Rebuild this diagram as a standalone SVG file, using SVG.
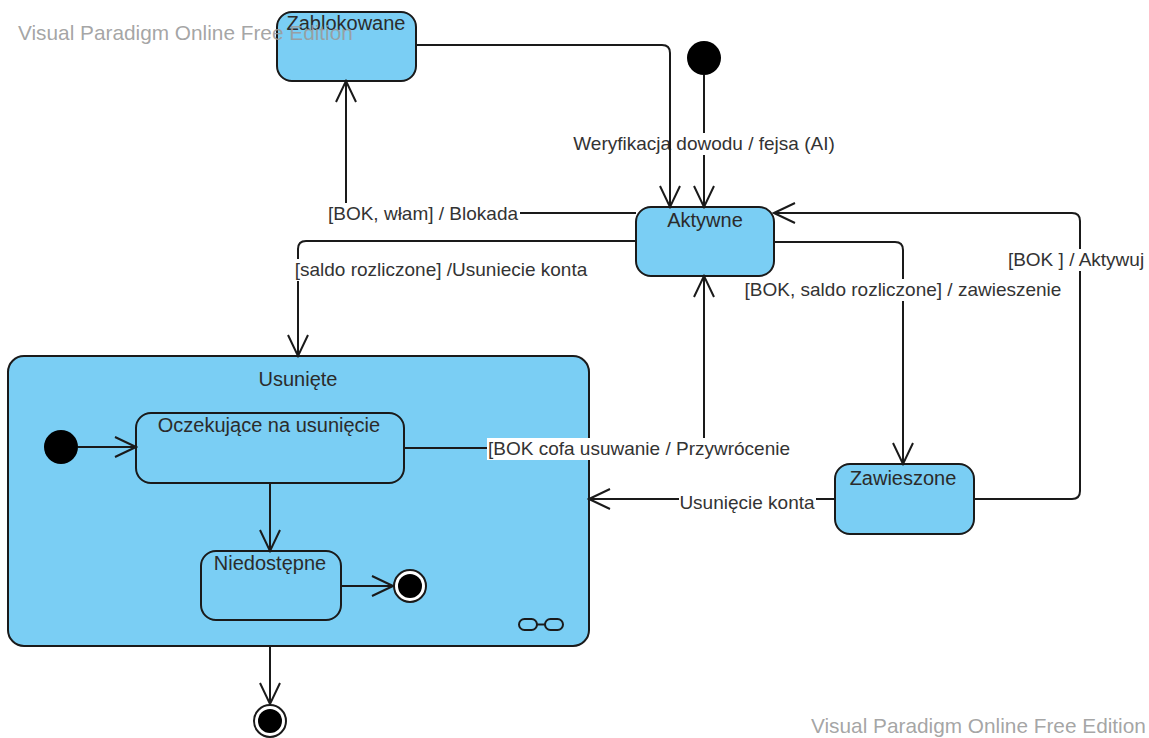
<svg xmlns="http://www.w3.org/2000/svg" width="1149" height="738" viewBox="0 0 1149 738">
  <style>
    .state { fill: #7acef4; stroke: #1a1a1a; stroke-width: 2; }
    .name { font-family: "Liberation Sans", Arial, sans-serif; font-size: 20px; fill: #2b2b2b; text-anchor: middle; }
    .lbl { font-family: "Liberation Sans", Arial, sans-serif; font-size: 19px; fill: #333333; text-anchor: middle; }
    .lblbg { fill: #ffffff; }
    .edge { fill: none; stroke: #1a1a1a; stroke-width: 2; marker-end: url(#open); }
    .plain { fill: none; stroke: #1a1a1a; stroke-width: 2; }
    .wm { font-family: "Liberation Sans", Arial, sans-serif; font-size: 20.8px; fill: #9a9a9a; fill-opacity: 0.9; }
  </style>
  <defs>
    <marker id="open" viewBox="-23 -12 25 24" markerWidth="25" markerHeight="24" refX="0" refY="0" orient="auto" markerUnits="userSpaceOnUse">
      <path d="M-21,-10 L0,0 L-21,10" fill="none" stroke="#1a1a1a" stroke-width="2"/>
    </marker>
  </defs>
  <rect width="1149" height="738" fill="#ffffff"/>

  <!-- composite state -->
  <g id="usuniete">
    <rect class="state" x="8" y="356" width="581" height="290" rx="16"/>
    <text class="name" x="298" y="386">Usunięte</text>
    <g class="plain" stroke-width="1.5">
      <rect x="519" y="619" width="18" height="11" rx="5.5"/>
      <rect x="545" y="619" width="18" height="11" rx="5.5"/>
      <line x1="537" y1="624.5" x2="545" y2="624.5"/>
    </g>
  </g>

  <g id="zablokowane">
    <rect class="state" x="277" y="12" width="139" height="69" rx="15"/>
    <text class="name" x="346" y="30">Zablokowane</text>
  </g>

  <g id="aktywne">
    <rect class="state" x="636" y="207" width="138" height="69" rx="15"/>
    <text class="name" x="705" y="227">Aktywne</text>
  </g>

  <g id="zawieszone">
    <rect class="state" x="835" y="464" width="139" height="70" rx="15"/>
    <text class="name" x="903" y="485">Zawieszone</text>
  </g>

  <g id="oczekujace">
    <rect class="state" x="136" y="413" width="268" height="70" rx="15"/>
    <text class="name" x="269" y="432">Oczekujące na usunięcie</text>
  </g>

  <g id="niedostepne">
    <rect class="state" x="201" y="551" width="140" height="69" rx="15"/>
    <text class="name" x="270" y="570">Niedostępne</text>
  </g>

  <g id="start-top">
    <circle cx="704" cy="58" r="17" fill="#000000"/>
  </g>

  <g id="start-inner">
    <circle cx="61" cy="447" r="17" fill="#000000"/>
  </g>

  <g id="end-inner">
    <circle cx="410" cy="586" r="16" fill="#ffffff" stroke="#1a1a1a" stroke-width="2"/>
    <circle cx="410" cy="586" r="12" fill="#000000"/>
  </g>

  <g id="end-outer">
    <circle cx="270" cy="721" r="16" fill="#ffffff" stroke="#1a1a1a" stroke-width="2"/>
    <circle cx="270" cy="721" r="12" fill="#000000"/>
  </g>

  <!-- transitions -->
  <g id="connectors">
    <!-- initial -> Aktywne, with its label -->
    <path class="edge" d="M704,75 V207"/>
    <rect class="lblbg" x="572" y="133" width="264" height="22"/>
    <text class="lbl" x="704" y="150">Weryfikacja dowodu / fejsa (AI)</text>

    <!-- Zablokowane -> Aktywne -->
    <path class="edge" d="M416,45 H662 Q670,45 670,53 V207"/>

    <!-- Aktywne -> Zablokowane -->
    <path class="edge" d="M636,213 H354 Q346,213 346,205 V81"/>
    <rect class="lblbg" x="327" y="203" width="193" height="22"/>
    <text class="lbl" x="423" y="220">[BOK, włam] / Blokada</text>

    <!-- Aktywne -> Usunięte -->
    <path class="edge" d="M636,241 H306 Q298,241 298,249 V356"/>
    <rect class="lblbg" x="294" y="259" width="295" height="22"/>
    <text class="lbl" x="441" y="276">[saldo rozliczone] /Usuniecie konta</text>

    <!-- Aktywne -> Zawieszone -->
    <path class="edge" d="M774,242 H895 Q903,242 903,250 V464"/>
    <rect class="lblbg" x="744" y="279" width="318" height="22"/>
    <text class="lbl" x="903" y="296">[BOK, saldo rozliczone] / zawieszenie</text>

    <!-- Zawieszone -> Aktywne -->
    <path class="edge" d="M974,499 H1072 Q1080,499 1080,491 V221 Q1080,213 1072,213 H774"/>
    <rect class="lblbg" x="1005" y="249" width="142" height="22"/>
    <text class="lbl" x="1076" y="266">[BOK ] / Aktywuj</text>

    <!-- Oczekujące na usunięcie -> Aktywne -->
    <path class="edge" d="M404,448 H696 Q704,448 704,440 V276"/>
    <rect class="lblbg" x="487" y="438" width="304" height="22"/>
    <text class="lbl" x="639" y="455">[BOK cofa usuwanie / Przywrócenie</text>

    <!-- Zawieszone -> Usunięte -->
    <path class="edge" d="M835,499 H589"/>
    <rect class="lblbg" x="679" y="492" width="137" height="22"/>
    <text class="lbl" x="747" y="509">Usunięcie konta</text>

    <!-- inside the composite state -->
    <path class="edge" d="M78,447 H136"/>
    <path class="edge" d="M270,483 V551"/>
    <path class="edge" d="M341,586 H393"/>

    <!-- Usunięte -> final -->
    <path class="edge" d="M270,646 V704"/>
  </g>

  <!-- watermarks, painted last so they sit above everything -->
  <text class="wm" x="18" y="40">Visual Paradigm Online Free Edition</text>
  <text class="wm" x="811" y="733">Visual Paradigm Online Free Edition</text>
</svg>
